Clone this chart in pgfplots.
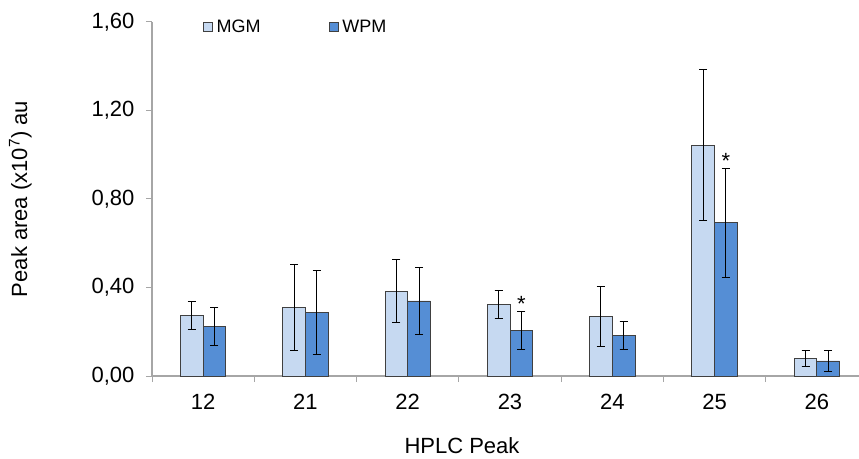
\documentclass[border=0pt]{standalone}
\usepackage{pgfplots}
\pgfplotsset{compat=1.18}
\usepackage{pgfplotstable}
\usepackage{fontspec}
\setmainfont{Liberation Sans}
\definecolor{mgm}{HTML}{C6D9F1}
\definecolor{wpm}{HTML}{558ED5}
\definecolor{axgray}{HTML}{A6A6A6}
\definecolor{barline}{HTML}{404040}

% x positions: category index -/+ half a bar
\pgfplotstableread{
x y e
-0.111 0.273 0.065
0.889 0.310 0.195
1.889 0.384 0.143
2.889 0.322 0.063
3.889 0.268 0.135
4.889 1.044 0.340
5.889 0.080 0.036
}\mgmdata

\pgfplotstableread{
x y e
0.111 0.223 0.085
1.111 0.286 0.190
2.111 0.339 0.150
3.111 0.205 0.085
4.111 0.185 0.063
5.111 0.692 0.246
6.111 0.068 0.049
}\wpmdata

\begin{document}
\begin{tikzpicture}
\path[use as bounding box] (0,0) rectangle (859pt,458pt);
\clip (0,0) rectangle (859pt,458pt);
\begin{axis}[
  at={(152pt,82pt)}, anchor=south west,
  scale only axis, width=716pt, height=354pt,
  xmin=-0.5, xmax=6.5, ymin=0, ymax=1.6,
  ybar, bar width=22.7pt, bar shift=0pt,
  axis x line*=bottom, axis y line*=left,
  axis line style={axgray, line width=1.3pt},
  tick align=outside,
  major tick length=6pt, minor tick length=6pt,
  xtick={0,...,6}, xticklabels={12,21,22,23,24,25,26},
  major x tick style={draw=none},
  minor xtick={-0.5,0.5,1.5,2.5,3.5,4.5,5.5,6.5},
  minor x tick style={axgray, line width=1pt},
  ytick={0,0.4,0.8,1.2,1.6},
  y tick style={axgray, line width=1pt},
  tick label style={font=\fontsize{22}{26}\selectfont, black},
  xticklabel style={yshift=-9pt},
  yticklabel style={xshift=-8pt, /pgf/number format/.cd, fixed, fixed zerofill, precision=2, use comma, assume math mode=true},
  xlabel={HPLC Peak},
  ylabel={Peak area (x10\textsuperscript{7}) au},
  label style={font=\fontsize{22}{26}\selectfont},
  xlabel style={at={(axis description cs:0.433,-0.22)}, anchor=base},
  ylabel style={at={(axis description cs:-0.184,0.5)}, anchor=center},
  legend columns=2,
  legend style={draw=none, fill=none, inner sep=0pt, at={(axis description cs:0.0708,0.986)}, anchor=west,
    font=\fontsize{18}{22}\selectfont,
    nodes={inner xsep=4pt},
    /tikz/every even column/.append style={column sep=64pt}},
  legend image code/.code={\draw[#1, draw=barline, line width=0.8pt] (0pt,-4.5pt) rectangle (9pt,4.5pt);},
  error bars/draw error bar/.code 2 args={
    \draw[black, line width=1pt] #1 -- #2;
    \draw[black, line width=1pt] #2 ++(-4pt,0pt) -- ++(8pt,0pt);
  },
  clip=false,
]
\addplot[fill=mgm, draw=barline, line width=0.8pt,
  error bars/.cd, y dir=both, y explicit]
  table[x=x, y=y, y error=e] {\mgmdata};
\addplot[fill=wpm, draw=barline, line width=0.8pt,
  error bars/.cd, y dir=both, y explicit]
  table[x=x, y=y, y error=e] {\wpmdata};
\legend{MGM, WPM}
\node[font=\fontsize{22}{26}\selectfont, anchor=base] at (axis cs:3.111,0.29) {*};
\node[font=\fontsize{22}{26}\selectfont, anchor=base] at (axis cs:5.111,0.937) {*};
\end{axis}
\end{tikzpicture}
\end{document}
